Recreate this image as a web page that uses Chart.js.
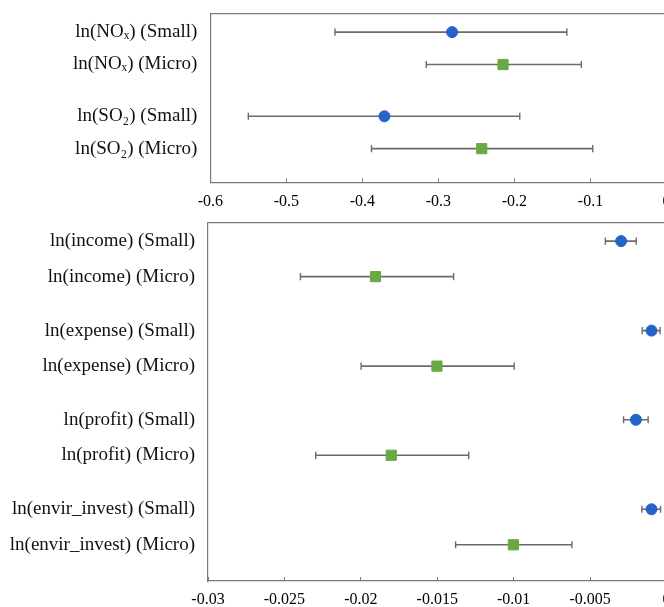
<!DOCTYPE html>
<html>
<head>
<meta charset="utf-8">
<script src="https://cdn.jsdelivr.net/npm/chart.js@4.4.1/dist/chart.umd.min.js"></script>
<style>
  html, body { margin: 0; padding: 0; background: #fff; overflow: hidden; }
  canvas { position: absolute; left: 0; }
  #topChart { top: 0; }
  #bottomChart { top: 208px; }
</style>
</head>
<body>
<canvas id="topChart" width="680" height="215"></canvas>
<canvas id="bottomChart" width="680" height="399"></canvas>
<script>
// top panel: emissions
const topLabels = [
  "ln(NOₓ) (Small)",
  "ln(NOₓ) (Micro)",
  "ln(SO₂) (Small)",
  "ln(SO₂) (Micro)",
];
const topRows = [1, 2, 3.6, 4.6];
const topPoint = [-0.282, -0.215, -0.371, -0.243];
const topLower = [-0.436, -0.316, -0.55, -0.388];
const topUpper = [-0.131, -0.112, -0.193, -0.097];
const topTicks = [-0.6, -0.5, -0.4, -0.3, -0.2, -0.1, 0];

// bottom panel: finance
const bottomLabels = [
  "ln(income) (Small)",
  "ln(income) (Micro)",
  "ln(expense) (Small)",
  "ln(expense) (Micro)",
  "ln(profit) (Small)",
  "ln(profit) (Micro)",
  "ln(envir_invest) (Small)",
  "ln(envir_invest) (Micro)",
];
const bottomRows = [1, 2, 3.52, 4.52, 6.03, 7.03, 8.55, 9.55];
const bottomPoint = [-0.00297, -0.01904, -0.00098, -0.01502, -0.002, -0.01801, -0.00098, -0.01002];
const bottomLower = [-0.004, -0.02395, -0.00159, -0.01998, -0.00281, -0.02295, -0.00161, -0.0138];
const bottomUpper = [-0.00198, -0.01393, -0.00042, -0.00997, -0.0012, -0.01294, -0.00039, -0.00619];
const bottomTicks = [-0.03, -0.025, -0.02, -0.015, -0.01, -0.005, 0];

const BLUE = "#2463c8";
const GREEN = "#6aa843";
const BAR = "#6b6b6b";
const AXIS = "#7a7a7a";
const SERIF = "'Liberation Serif', 'DejaVu Serif', serif";

function buildDatasets(labels, rows, point, lower, upper) {
  const small = [];
  const micro = [];
  labels.forEach((label, i) => {
    const p = { x: point[i], y: rows[i] };
    if (label.includes("(Small)")) small.push(p);
    else micro.push(p);
  });

  const datasets = [
    {
      data: small,
      pointStyle: "circle",
      pointRadius: 5.5,
      backgroundColor: BLUE,
      borderColor: BLUE,
      borderWidth: 1,
    },
    {
      data: micro,
      pointStyle: "rect",
      pointRadius: 7.2,
      backgroundColor: GREEN,
      borderColor: GREEN,
      borderWidth: 1,
    },
  ];

  // whiskers, drawn under the markers
  labels.forEach((label, i) => {
    datasets.push({
      data: [
        { x: lower[i], y: rows[i] },
        { x: upper[i], y: rows[i] },
      ],
      showLine: true,
      borderColor: BAR,
      borderWidth: 1.6,
      pointStyle: "line",
      pointRotation: 90,
      pointRadius: 3.6,
      pointBorderColor: BAR,
      pointBorderWidth: 1.4,
    });
  });

  return datasets;
}

function noPadding(scale) {
  scale.paddingTop = 0;
  scale.paddingBottom = 0;
  scale.paddingLeft = 0;
  scale.paddingRight = 0;
}

function makeChart(id, cfg) {
  return new Chart(document.getElementById(id), {
    type: "scatter",
    data: {
      datasets: buildDatasets(cfg.labels, cfg.rows, cfg.point, cfg.lower, cfg.upper),
    },
    options: {
      responsive: false,
      devicePixelRatio: 1,
      animation: false,
      layout: {
        padding: { top: cfg.padTop, right: 13.5, bottom: 0, left: 0 },
      },
      plugins: {
        legend: { display: false },
        tooltip: { enabled: false },
      },
      scales: {
        x: {
          type: "linear",
          position: "bottom",
          min: cfg.ticks[0],
          max: cfg.ticks[cfg.ticks.length - 1],
          afterBuildTicks: (scale) => {
            scale.ticks = cfg.ticks.map((v) => ({ value: v }));
          },
          afterFit: (scale) => {
            scale.height = cfg.xHeight;
            noPadding(scale);
          },
          grid: {
            drawOnChartArea: false,
            drawTicks: true,
            tickLength: -4,
            color: AXIS,
          },
          border: { display: true, color: AXIS, width: 1.2 },
          ticks: {
            padding: 13.5,
            maxRotation: 0,
            autoSkip: false,
            color: "#000",
            font: { family: SERIF, size: 16 },
            callback: (v) => String(v),
          },
        },
        x2: {
          type: "linear",
          position: "top",
          min: cfg.ticks[0],
          max: cfg.ticks[cfg.ticks.length - 1],
          afterFit: (scale) => {
            scale.height = 0;
            noPadding(scale);
          },
          grid: { drawOnChartArea: false, drawTicks: false },
          border: { display: true, color: AXIS, width: 1.2 },
          ticks: { display: false },
        },
        y: {
          type: "linear",
          reverse: true,
          min: cfg.yMin,
          max: cfg.yMax,
          afterBuildTicks: (scale) => {
            scale.ticks = cfg.rows.map((v) => ({ value: v }));
          },
          afterFit: (scale) => {
            scale.width = cfg.yWidth;
            noPadding(scale);
          },
          grid: { drawOnChartArea: false, drawTicks: false },
          border: { display: true, color: AXIS, width: 1.2 },
          ticks: {
            padding: 13,
            autoSkip: false,
            color: "#111",
            font: { family: SERIF, size: 19 },
            callback: (v, i) => cfg.labels[i],
          },
        },
      },
    },
  });
}

makeChart("topChart", {
  labels: topLabels,
  rows: topRows,
  point: topPoint,
  lower: topLower,
  upper: topUpper,
  ticks: topTicks,
  yMin: 0.44,
  yMax: 5.64,
  yWidth: 210.3,
  padTop: 14,
  xHeight: 32.7,
});

makeChart("bottomChart", {
  labels: bottomLabels,
  rows: bottomRows,
  point: bottomPoint,
  lower: bottomLower,
  upper: bottomUpper,
  ticks: bottomTicks,
  yMin: 0.47,
  yMax: 10.57,
  yWidth: 208,
  padTop: 14.3,
  xHeight: 26,
});
</script>
</body>
</html>
